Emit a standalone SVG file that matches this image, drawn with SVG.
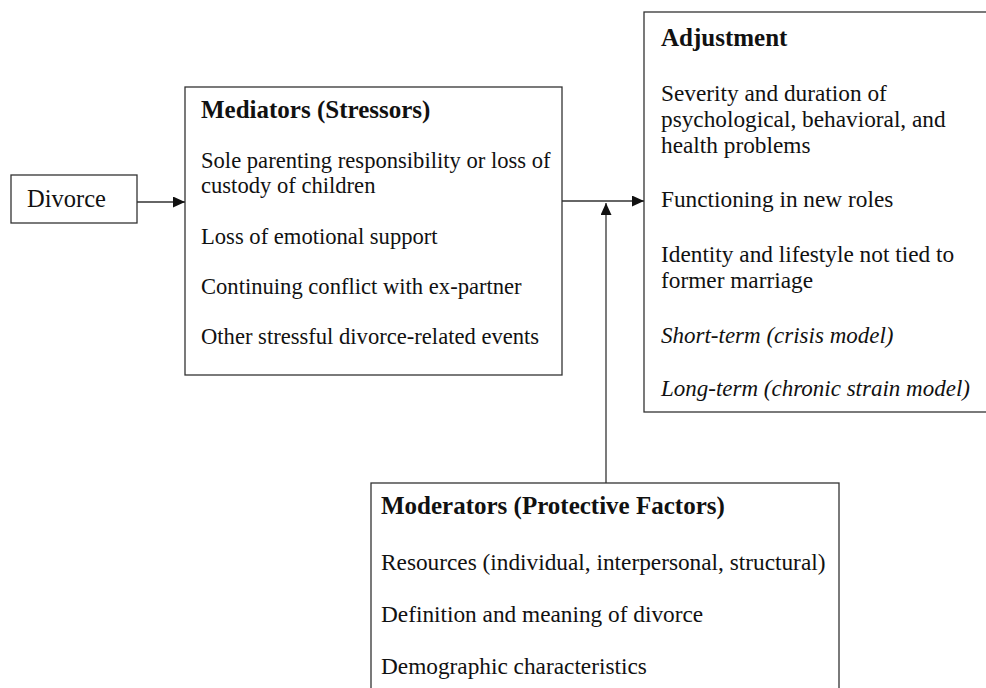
<svg xmlns="http://www.w3.org/2000/svg" width="986" height="688" viewBox="0 0 986 688">
<defs>
<style>
.box{fill:#fff;stroke:#333;stroke-width:1.3}
.t{font-family:"Liberation Serif","Times New Roman",serif;font-size:23.3px;fill:#111}
.m{font-size:22.6px}
.b{font-weight:bold;font-size:25px}
.i{font-style:italic;font-size:23px}
.c{stroke:#333;stroke-width:1.3;fill:none}
</style>
<marker id="ah" markerWidth="12" markerHeight="11" refX="12" refY="5.5" orient="auto" markerUnits="userSpaceOnUse">
<path d="M0,0 L12,5.5 L0,11 Z" fill="#111"/>
</marker>
</defs>
<rect width="986" height="688" fill="#fff"/>
<g id="divorce">
<rect class="box" x="11" y="175" width="126" height="48"/>
<text class="t" x="27" y="207" style="font-size:24.5px">Divorce</text>
</g>
<g id="mediators">
<rect class="box" x="185" y="87" width="377" height="288"/>
<text class="t b" x="201" y="118">Mediators (Stressors)</text>
<text class="t m" x="201" y="168">Sole parenting responsibility or loss of</text>
<text class="t m" x="201" y="193">custody of children</text>
<text class="t m" x="201" y="244">Loss of emotional support</text>
<text class="t m" x="201" y="294">Continuing conflict with ex-partner</text>
<text class="t m" x="201" y="344">Other stressful divorce-related events</text>
</g>
<g id="adjustment">
<rect class="box" x="644" y="12" width="360" height="400"/>
<text class="t b" x="661" y="46">Adjustment</text>
<text class="t" x="661" y="101">Severity and duration of</text>
<text class="t" x="661" y="127">psychological, behavioral, and</text>
<text class="t" x="661" y="153">health problems</text>
<text class="t" x="661" y="207">Functioning in new roles</text>
<text class="t" x="661" y="262">Identity and lifestyle not tied to</text>
<text class="t" x="661" y="288">former marriage</text>
<text class="t i" x="661" y="343">Short-term (crisis model)</text>
<text class="t i" x="661" y="396">Long-term (chronic strain model)</text>
</g>
<g id="moderators">
<rect class="box" x="371" y="483" width="468" height="220"/>
<text class="t b" x="381" y="514">Moderators (Protective Factors)</text>
<text class="t" x="381" y="570">Resources (individual, interpersonal, structural)</text>
<text class="t" x="381" y="622">Definition and meaning of divorce</text>
<text class="t" x="381" y="674">Demographic characteristics</text>
</g>
<g id="connectors">
<line class="c" x1="137" y1="202" x2="185" y2="202" marker-end="url(#ah)"/>
<line class="c" x1="562" y1="201" x2="644" y2="201" marker-end="url(#ah)"/>
<line class="c" x1="606" y1="483" x2="606" y2="203" marker-end="url(#ah)"/>
</g>
</svg>
